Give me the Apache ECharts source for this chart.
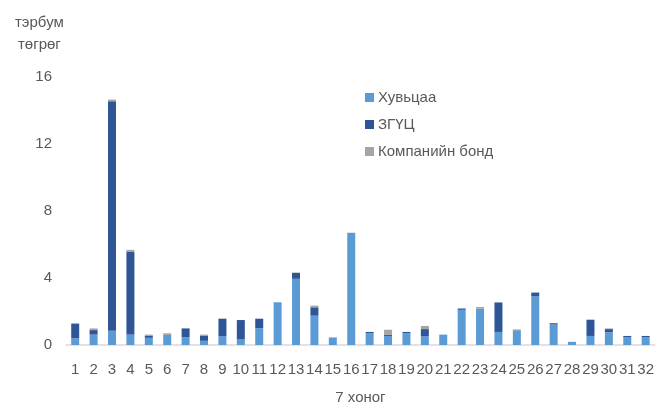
<!DOCTYPE html>
<html>
<head>
<meta charset="utf-8">
<script src="https://cdn.jsdelivr.net/npm/echarts@6/dist/echarts.min.js"></script>
<style>
  html, body { margin: 0; padding: 0; background: #fff; }
  #main { width: 657px; height: 410px; }
</style>
</head>
<body>
<div id="main"></div>
<script>
// 7 хоног
var weeks = ['1','2','3','4','5','6','7','8','9','10','11','12','13','14','15','16',
             '17','18','19','20','21','22','23','24','25','26','27','28','29','30','31','32'];

// тэрбум төгрөг
var stocks = [0.40, 0.62, 0.85, 0.62, 0.43, 0.60, 0.47, 0.25, 0.52, 0.33, 1.00, 2.55, 3.95, 1.75, 0.45, 6.70,
              0.70, 0.54, 0.70, 0.52, 0.62, 2.10, 2.17, 0.78, 0.81, 2.90, 1.22, 0.19, 0.54, 0.76, 0.47, 0.47];
var govBonds = [0.88, 0.27, 13.70, 4.96, 0.11, 0, 0.52, 0.29, 1.05, 1.16, 0.57, 0, 0.35, 0.50, 0, 0,
                0.08, 0.06, 0.08, 0.43, 0, 0.08, 0, 1.76, 0.06, 0.23, 0.08, 0, 0.97, 0.19, 0.07, 0.07];
var corpBonds = [0, 0.10, 0.10, 0.10, 0.08, 0.10, 0, 0.08, 0, 0, 0, 0, 0.03, 0.10, 0, 0,
                 0, 0.31, 0, 0.19, 0, 0, 0.10, 0, 0.06, 0, 0, 0, 0, 0.04, 0, 0];

var names = ['Хувьцаа', 'ЗГҮЦ', 'Компанийн бонд'];
var colors = ['#5B9BD5', '#2F5597', '#A5A5A5'];
var font = "'Liberation Sans Narrow', 'Liberation Sans', sans-serif";

var myChart = echarts.init(document.getElementById('main'));

function barSeries(name, data, color) {
    return {
        name: name,
        type: 'bar',
        stack: 'total',
        barWidth: 8,
        data: data,
        itemStyle: { color: color },
        emphasis: { disabled: true }
    };
}

var option = {
    animation: false,
    textStyle: { fontFamily: font },
    color: colors,
    grid: { left: 66, right: 1, top: 77, bottom: 59, containLabel: false },
    legend: {
        orient: 'vertical',
        left: 360,
        top: 85,
        icon: 'rect',
        itemWidth: 9,
        itemHeight: 9,
        itemGap: 12,
        textStyle: { fontSize: 15, color: '#595959', fontFamily: font, padding: [0, 0, 0, -1] },
        data: names
    },
    graphic: [{
        type: 'text',
        left: 15,
        top: 12,
        style: {
            text: 'тэрбум\nтөгрөг',
            fontSize: 15,
            lineHeight: 22,
            fill: '#595959',
            fontFamily: font,
            textAlign: 'center'
        }
    }],
    xAxis: {
        type: 'category',
        data: weeks,
        name: '7 хоног',
        nameLocation: 'middle',
        nameGap: 45,
        nameTextStyle: { fontSize: 15, color: '#595959', fontFamily: font },
        axisTick: { show: false },
        axisLine: { lineStyle: { color: '#D9D9D9', width: 1.5 } },
        axisLabel: { fontSize: 15, color: '#595959', margin: 17, interval: 0, fontFamily: font }
    },
    yAxis: {
        type: 'value',
        min: 0,
        max: 16,
        interval: 4,
        splitLine: { show: false },
        axisLine: { show: false },
        axisTick: { show: false },
        axisLabel: { fontSize: 15, color: '#595959', margin: 14, fontFamily: font }
    },
    series: [
        barSeries(names[0], stocks, colors[0]),
        barSeries(names[1], govBonds, colors[1]),
        barSeries(names[2], corpBonds, colors[2])
    ]
};

myChart.setOption(option);
</script>
</body>
</html>
